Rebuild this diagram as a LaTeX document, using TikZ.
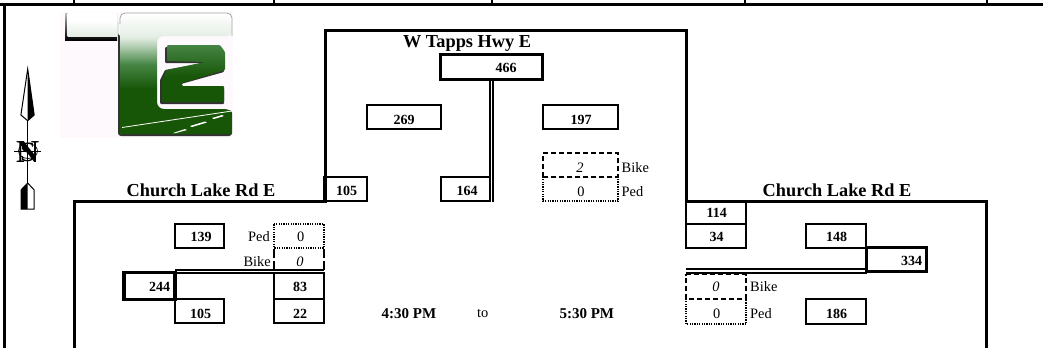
\documentclass[tikz,border=0pt]{standalone}
\usepackage{fontspec}
\setmainfont{Liberation Serif}
\definecolor{dgreen}{HTML}{175607}
\definecolor{mgreen}{HTML}{458544}
\definecolor{lgreen}{HTML}{A9C8A8}
\definecolor{vlgreen}{HTML}{E4EDE4}
\definecolor{logobg}{HTML}{FDF9FD}
\definecolor{shadowc}{HTML}{333333}
\pgfdeclareverticalshading{tgreen}{100bp}{color(0bp)=(dgreen); color(25bp)=(dgreen); color(43.5bp)=(dgreen); color(53.7bp)=(mgreen); color(60.6bp)=(lgreen); color(65bp)=(vlgreen); color(75bp)=(white); color(100bp)=(white)}
\pgfdeclareverticalshading{twogreen}{100bp}{color(0bp)=(dgreen); color(47bp)=(dgreen); color(75bp)=(mgreen); color(100bp)=(mgreen)}
\pgfdeclareverticalshading{barshade}{100bp}{color(0bp)=(vlgreen); color(25bp)=(vlgreen); color(60bp)=(white); color(100bp)=(white)}
\pgfdeclareverticalshading{barshadow}{100bp}{color(0bp)=(black); color(25bp)=(black); color(40bp)=(shadowc); color(60bp)=(gray); color(75bp)=(gray!50); color(100bp)=(gray!50)}
\tikzset{
  x=1pt,y=-1pt,
  rule/.style={line width=3pt},
  cell/.style={draw=black,line width=2pt,anchor=north west,inner sep=0pt,outer sep=0pt},
  thick cell/.style={cell,line width=3.2pt},
  dashcell/.style={line width=1.7pt,dash pattern=on 5pt off 3pt},
  dotcell/.style={line width=1.9pt,dash pattern=on 1.3pt off 1.1pt},
  doubleline/.style={line width=1.9pt},
  num/.style={font=\fontsize{14pt}{15pt}\selectfont\bfseries,inner sep=0pt},
  plain/.style={font=\fontsize{14.4pt}{15pt}\selectfont,inner sep=0pt},
  slant/.style={font=\fontsize{14.4pt}{15pt}\selectfont\itshape,inner sep=0pt},
  road/.style={font=\fontsize{18.3pt}{19pt}\selectfont\bfseries,inner sep=0pt},
  timetext/.style={font=\fontsize{15pt}{16pt}\selectfont\bfseries,inner sep=0pt},
}
\begin{document}
\begin{tikzpicture}
\useasboundingbox (0,0) rectangle (1043,348);
% page frame
\draw[rule] (0,4.3) -- (1043,4.3);
\draw[rule] (4,4.3) -- (4,348);
\foreach \tx in {74,274,492,745,987} \draw[line width=2.7pt] (\tx,0) -- (\tx,4);
% logo
\fill[logobg] (60,12) rectangle (233,138);
\path[shading=barshadow] (65,13) rectangle (117,40);
\path[shading=barshade] (67.5,13.8) rectangle (117,36);
\fill[shadowc,rounded corners=3pt] (118,20) -- (118,136) -- (232,136) -- (232,110) -- (160,110) -- (155,104) -- (155,36) -- (118,36) -- cycle;
\path[shading=tgreen,rounded corners=5pt] (127,13) -- (232,13) -- (232,36) -- (165,36) [rounded corners=7pt] -- (157,36) -- (157,109) -- (232,109) [sharp corners] -- (232,134) -- (120,134) -- (120,20) -- cycle;
\draw[gray!70,line width=0.8pt,rounded corners=5pt] (120,24) -- (120,13) -- (232,13) -- (232,36);
\draw[white,line width=0.8pt] (122,127.5) -- (232,111);
\fill[white] (173,133) -- (185,129) -- (187,130) -- (176,133) -- cycle;
\fill[white] (190,126) -- (205,121.5) -- (207,122.5) -- (192,127) -- cycle;
\fill[white] (212,118) -- (222,115) -- (224,116) -- (214,119) -- cycle;
\fill[shadowc,rounded corners=1pt] (165,47) -- (219,47) -- (224,52) -- (224,72) -- (181,84) -- (181,88) -- (224,88) -- (224,104) -- (160,104) -- (160,80) -- (165,70) -- (204,63) -- (165,63) -- cycle;
\path[shading=twogreen,rounded corners=1pt] (167,45) -- (220,45) -- (225,52) -- (225,70) -- (182,83) -- (182,86) -- (224,86) -- (224,102) -- (162,102) -- (162,80) -- (167,70) -- (205,62) -- (167,61) -- cycle;
% north arrow
\draw[line width=0.9pt] (27.7,69) -- (27.7,183);
\draw[fill=white,line width=1pt] (27.7,69) -- (20.9,115) -- (27.7,120.7) -- (34.2,115) -- cycle;
\fill[black] (27.7,69) -- (27.7,120.7) -- (34.2,115) -- cycle;
\draw[fill=white,line width=1pt] (27.7,183) -- (21,190) -- (21,209) -- (34.2,209) -- (34.2,190) -- cycle;
\fill[black] (27.7,183) -- (21,190) -- (21,209) -- (27.7,209) -- cycle;
\draw[line width=0.7pt] (14,151) -- (41,151);
\draw[line width=0.7pt] (28,151) ellipse (9.5 and 7.5);
\node[font=\fontsize{32pt}{32pt}\selectfont\bfseries,inner sep=0pt] (compassN) at (27.7,152) {N};
\node[font=\fontsize{28pt}{28pt}\selectfont,inner sep=0pt] (compassS) at (28,152) {S};
% road outline
\draw[rule] (74,348) -- (74,201.5) -- (325,201.5) -- (325,30) -- (686,30) -- (686,201.5) -- (986,201.5) -- (986,348);
% labels of roads
\node[road] (westname) at (201,190) {Church Lake Rd E};
\node[road] (eastname) at (837,190) {Church Lake Rd E};
\node[road] (northname) at (467,43) {W Tapps Hwy E};
% north approach
\node[thick cell,minimum width=102pt,minimum height=25pt] (b466) at (440.5,54.3) {};
\node[num] at (506,68) {466};
\node[cell,minimum width=74pt,minimum height=24pt] (b269) at (367,105) {};
\node[num] at (404,120) {269};
\node[cell,minimum width=75pt,minimum height=24pt] (b197) at (543,105) {};
\node[num] at (581,120) {197};
\draw[dashcell] (543,176.7) -- (543,153) -- (618,153) -- (618,176.7) -- cycle;
\node[name=v2,slant] at (580,168) {2};
\draw[dotcell] (543,176.7) -- (543,201) -- (618,201) -- (618,176.7);
\node[plain] at (581,192) {0};
\node[plain,anchor=west] at (621.5,168) {Bike};
\node[plain,anchor=west] at (621.5,192) {Ped};
\node[cell,minimum width=43pt,minimum height=24.5pt] (b105n) at (324,176.7) {};
\node[num] at (346.7,191) {105};
\node[cell,minimum width=49pt,minimum height=24.5pt] (b164) at (441,176.7) {};
\node[num] at (467,191) {164};
\draw[doubleline] (490.2,79) -- (490.2,201.5);
\draw[doubleline] (493.4,79) -- (493.4,201.5);
% west approach
\node[cell,minimum width=49pt,minimum height=23.5pt] (b139) at (175,224.3) {};
\node[num] at (201,236.7) {139};
\draw[dotcell] (274,224.3) rectangle (324,248);
\node[plain] at (300.7,236.7) {0};
\node[plain,anchor=east] at (270,236.7) {Ped};
\node[plain,anchor=east] at (271,261.7) {Bike};
\node[slant] at (300,261.7) {0};
\draw[line width=1.7pt,dash pattern=on 9pt off 3pt] (273.7,249) -- (273.7,270);
\draw[line width=1.7pt,dash pattern=on 9pt off 3pt] (324,249) -- (324,270);
\draw[doubleline] (175,270) -- (324,270);
\draw[doubleline] (175,273.2) -- (324,273.2);
\node[thick cell,minimum width=51pt,minimum height=27pt] (b244) at (124,272.5) {};
\node[num] at (159.5,286.7) {244};
\node[cell,minimum width=50.5pt,minimum height=26pt] (b83) at (273.7,273.3) {};
\node[num] at (300,286.7) {83};
\node[cell,minimum width=49pt,minimum height=24pt] (b105w) at (175,299.3) {};
\node[num] at (200.7,314) {105};
\node[cell,minimum width=50.5pt,minimum height=24pt] (b22) at (273.7,299.3) {};
\node[num] at (300,314) {22};
% centre time
\node[timetext] at (409,314) {4:30 PM};
\node[plain] at (482.7,314) {to};
\node[timetext] at (586.8,314) {5:30 PM};
% east approach
\node[cell,minimum width=60pt,minimum height=22.5pt] (b114) at (686,201.7) {};
\node[num] at (716.7,213) {114};
\node[cell,minimum width=60pt,minimum height=24.3pt] (b34) at (686,224) {};
\node[num] at (716.7,237.3) {34};
\node[cell,minimum width=60pt,minimum height=24.3pt] (b148) at (806,224) {};
\node[num] at (836.7,237.3) {148};
\node[thick cell,minimum width=60pt,minimum height=24.5pt] (b334) at (866.7,247.3) {};
\node[num] at (911.7,261) {334};
\draw[doubleline] (686,269.3) -- (866.7,269.3);
\draw[doubleline] (686,272.6) -- (866.7,272.6);
\draw[dashcell] (686,298.7) -- (686,274.5) -- (746,274.5) -- (746,298.7) -- cycle;
\draw[dotcell] (686,298.7) -- (686,324) -- (746,324) -- (746,298.7);
\node[slant] at (716,286.7) {0};
\node[plain] at (716.7,314) {0};
\node[plain,anchor=west] at (750,286.7) {Bike};
\node[plain,anchor=west] at (750,314) {Ped};
\node[cell,minimum width=60pt,minimum height=25pt] (b186) at (806,299) {};
\node[num] at (836.7,314) {186};
\end{tikzpicture}
\end{document}
